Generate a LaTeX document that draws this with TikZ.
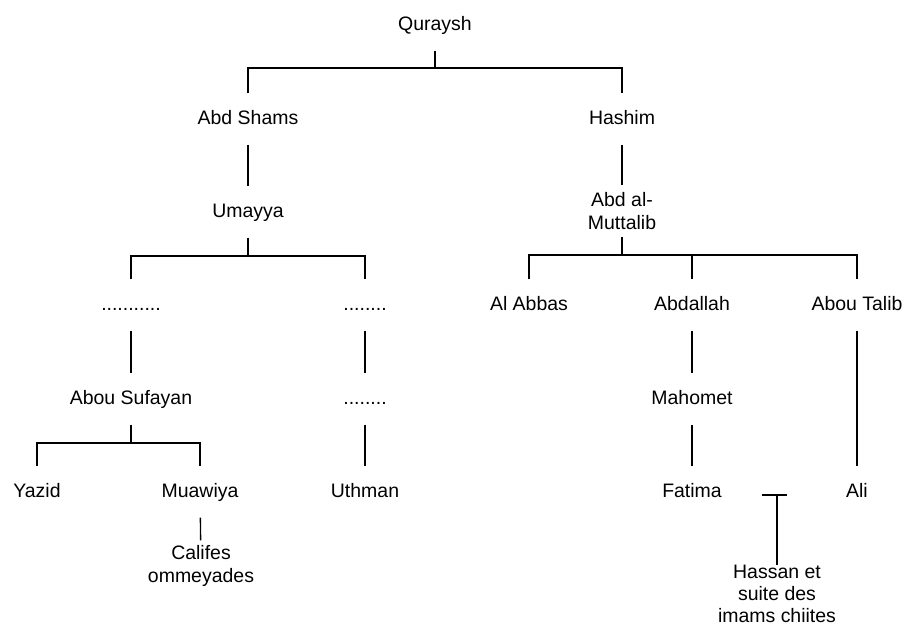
\documentclass[tikz,border=0pt]{standalone}
\usepackage{fontspec}
\setmainfont{Liberation Sans}

\begin{document}
\begin{tikzpicture}[x=0.75pt, y=-0.75pt, line width=1pt,
  every node/.style={font=\fontsize{14.6}{17}\selectfont, inner sep=0pt, text height=10.5pt, text depth=3pt, minimum height=37.5pt, align=center},
  multi/.style={text height=, text depth=}]
  \useasboundingbox (0,0) rectangle (907,628);

  % generations
  \node (quraysh) at (435,25) {Quraysh};
  \node (abdshams) at (248,119) {Abd Shams};
  \node (hashim) at (622,119) {Hashim};
  \node (umayya) at (248,212) {Umayya};
  \node[multi] (muttalib) at (622,211) {Abd al-\\Muttalib};
  \node (dotsa) at (131,305) {...........};
  \node (dotsb) at (365,305) {........};
  \node (abbas) at (529,305) {Al Abbas};
  \node (abdallah) at (692,305) {Abdallah};
  \node (talib) at (857,305) {Abou Talib};
  \node (sufayan) at (131,399) {Abou Sufayan};
  \node (dotsc) at (365,399) {........};
  \node (mahomet) at (692,399) {Mahomet};
  \node (yazid) at (37,492) {Yazid};
  \node (muawiya) at (200,492) {Muawiya};
  \node (uthman) at (365,492) {Uthman};
  \node (fatima) at (692,492) {Fatima};
  \node (ali) at (857,492) {Ali};
  \node[multi] (califes) at (201,566) {Califes\\ommeyades};
  \node[multi, font=\fontsize{14.6}{16.5}\selectfont] (hassan) at (777,594) {Hassan et\\suite des\\imams chiites};

  % bars
  \coordinate (b1) at (435,68);
  \coordinate (b2) at (248,256);
  \coordinate (b3) at (622,255);
  \coordinate (b4) at (131,443);
  \coordinate (tl) at (762,495);
  \coordinate (tr) at (787,495);

  \draw (quraysh) -- (b1);
  \draw (abdshams) |- (b1) -| (hashim);
  \draw (abdshams) -- (umayya);
  \draw (hashim) -- (muttalib);
  \draw (umayya) -- (b2);
  \draw (dotsa) |- (b2) -| (dotsb);
  \draw (muttalib) -- (b3);
  \draw (abbas) |- (b3) -| (talib);
  \draw (abdallah) -- (abdallah |- b3);
  \draw (dotsa) -- (sufayan);
  \draw (dotsb) -- (dotsc);
  \draw (abdallah) -- (mahomet);
  \draw (talib) -- (ali);
  \draw (sufayan) -- (b4);
  \draw (yazid) |- (b4) -| (muawiya);
  \draw (dotsc) -- (uthman);
  \draw (mahomet) -- (fatima);
  \draw (muawiya) -- (califes);
  \draw (tl) -- (tr);
  \draw (hassan) -- (hassan |- tl);
\end{tikzpicture}
\end{document}
